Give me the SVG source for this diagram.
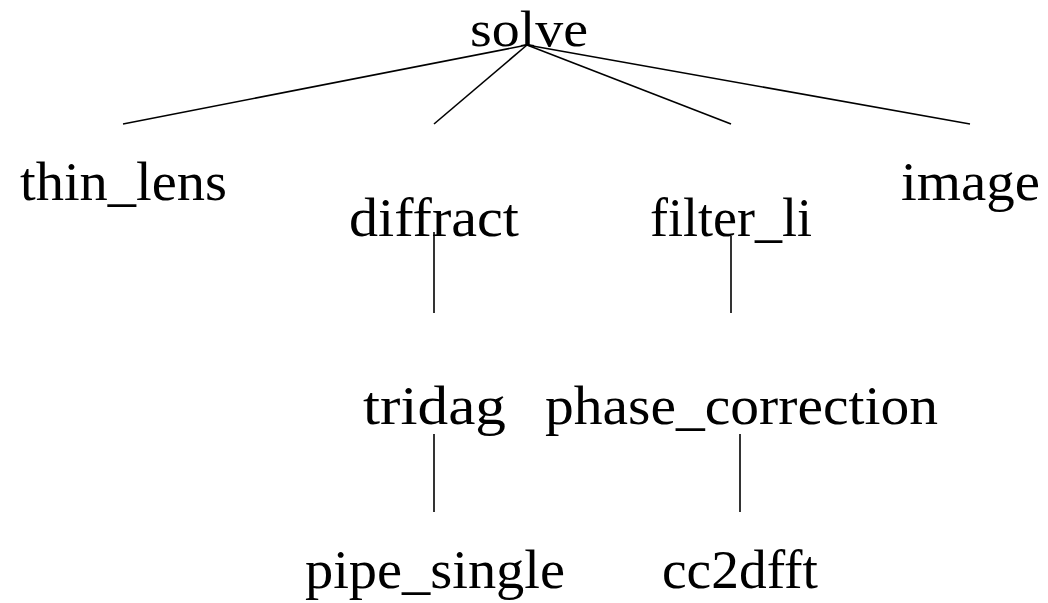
<svg xmlns="http://www.w3.org/2000/svg" width="1048" height="603" viewBox="0 0 1048 603">
<style>
.lbl{font-family:"Liberation Serif","DejaVu Serif",serif;font-size:55px;fill:#000;text-anchor:middle}
.edge{stroke:#000;stroke-width:1.6;fill:none;stroke-linecap:butt}
</style>
<rect width="1048" height="603" fill="#fff"/>
<g id="connectors">
<line class="edge" x1="527" y1="45" x2="123" y2="124"/>
<line class="edge" x1="527" y1="45" x2="434" y2="124"/>
<line class="edge" x1="527" y1="45" x2="731" y2="124"/>
<line class="edge" x1="527" y1="45" x2="970" y2="124"/>
<line class="edge" x1="434" y1="232" x2="434" y2="313"/>
<line class="edge" x1="731" y1="236" x2="731" y2="313"/>
<line class="edge" x1="434" y1="434" x2="434" y2="512"/>
<line class="edge" x1="740" y1="434" x2="740" y2="512"/>
</g>
<g id="solve"><text class="lbl" x="529" y="46" style="font-size:50px" textLength="118" lengthAdjust="spacingAndGlyphs">solve</text></g>
<g id="thin_lens"><text class="lbl" x="123.5" y="200" textLength="207" lengthAdjust="spacingAndGlyphs">thin_lens</text></g>
<g id="diffract"><text class="lbl" x="434" y="236" textLength="170" lengthAdjust="spacingAndGlyphs">diffract</text></g>
<g id="filter_li"><text class="lbl" x="731" y="236" textLength="162" lengthAdjust="spacingAndGlyphs">filter_li</text></g>
<g id="image"><text class="lbl" x="970.5" y="200" textLength="139" lengthAdjust="spacingAndGlyphs">image</text></g>
<g id="tridag"><text class="lbl" x="434.5" y="424" textLength="143" lengthAdjust="spacingAndGlyphs">tridag</text></g>
<g id="phase_correction"><text class="lbl" x="741.5" y="424" textLength="393" lengthAdjust="spacingAndGlyphs">phase_correction</text></g>
<g id="pipe_single"><text class="lbl" x="435" y="588" textLength="260" lengthAdjust="spacingAndGlyphs">pipe_single</text></g>
<g id="cc2dfft"><text class="lbl" x="740" y="588" textLength="156" lengthAdjust="spacingAndGlyphs">cc2dfft</text></g>
</svg>
